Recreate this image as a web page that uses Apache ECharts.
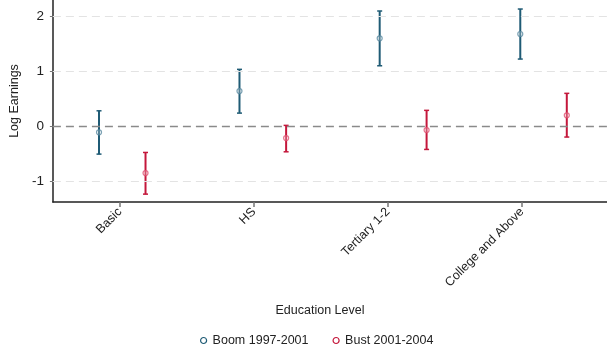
<!DOCTYPE html>
<html><head><meta charset="utf-8">
<script src="https://cdn.jsdelivr.net/npm/echarts@6/dist/echarts.min.js"></script>
<style>html,body{margin:0;padding:0;background:#fff}#c{width:607px;height:352px}</style>
</head><body><div id="c"></div>
<script>
const categories = ['Basic', 'HS', 'Tertiary 1-2', 'College and Above'];
const seriesNames = ['Boom 1997-2001', 'Bust 2001-2004'];
// x positions (in category-axis units) where each group is plotted
const boomX = [0.844, 1.892, 2.938, 3.987];
const bustX = [1.191, 2.240, 3.288, 4.334];
const boomEst = [-0.105, 0.645, 1.604, 1.682];
const boomLo = [-0.50, 0.245, 1.105, 1.227];
const boomHi = [0.287, 1.04, 2.10, 2.136];
const bustEst = [-0.845, -0.209, -0.064, 0.204];
const bustLo = [-1.227, -0.458, -0.415, -0.19];
const bustHi = [-0.47, 0.022, 0.295, 0.604];
const yTicks = [-1, 0, 1, 2];
const xTicks = [1, 2, 3, 4];

const boomColor = '#1f5b75';
const bustColor = '#c4173b';
const font = 'Liberation Sans, Arial, Helvetica, sans-serif';

function errItem(color) {
  return function (params, api) {
    const x = api.value(0), lo = api.value(1), hi = api.value(2);
    const p1 = api.coord([x, lo]), p2 = api.coord([x, hi]);
    const cw = 2.5;
    const st = { stroke: color, lineWidth: 2 };
    return { type: 'group', children: [
      { type: 'line', shape: { x1: p1[0], y1: p1[1], x2: p2[0], y2: p2[1] }, style: st },
      { type: 'line', shape: { x1: p1[0] - cw, y1: p1[1], x2: p1[0] + cw, y2: p1[1] }, style: { stroke: color, lineWidth: 1.5 } },
      { type: 'line', shape: { x1: p2[0] - cw, y1: p2[1], x2: p2[0] + cw, y2: p2[1] }, style: { stroke: color, lineWidth: 1.5 } }
    ]};
  };
}

const chart = echarts.init(document.getElementById('c'), null, { renderer: 'canvas' });
chart.setOption({
  animation: false,
  textStyle: { fontFamily: font },
  grid: { left: 51, right: 0, top: 0, bottom: 150, containLabel: false },
  graphic: [
    { type: 'text', x: 320, y: 304,
      style: { text: 'Education Level', fill: '#222', font: '12.5px ' + font, align: 'center', verticalAlign: 'top' } }
  ],
  xAxis: {
    type: 'value', min: 0.5, max: 4.634,
    axisLine: { show: true, onZero: false, lineStyle: { color: '#222', width: 1.5 } },
    axisTick: { show: true, customValues: xTicks, length: 5, lineStyle: { color: '#777', width: 1.5 } },
    axisLabel: { customValues: xTicks, rotate: 45, margin: 8, color: '#222', fontSize: 12.5, fontFamily: font,
      formatter: v => categories[Math.round(v) - 1] },
    splitLine: { show: false }
  },
  yAxis: {
    type: 'value', min: -1.37, max: 2.3,
    axisLine: { show: true, onZero: false, lineStyle: { color: '#222', width: 1.5 } },
    axisTick: { show: true, customValues: yTicks, length: 3, lineStyle: { color: '#777' } },
    axisLabel: { customValues: yTicks, margin: 9, color: '#222', fontSize: 13.5, fontFamily: font },
    splitLine: { show: false },
    name: 'Log Earnings', nameLocation: 'middle', nameGap: 31,
    nameTextStyle: { color: '#222', fontSize: 12.5, fontFamily: font }
  },
  legend: {
    bottom: 0, left: 195, itemGap: 24, itemWidth: 8, itemHeight: 6,
    textStyle: { color: '#222', fontSize: 12.5, fontFamily: font },
    data: [
      { name: seriesNames[0], icon: 'circle', itemStyle: { color: '#fff', borderColor: boomColor, borderWidth: 1.2 } },
      { name: seriesNames[1], icon: 'circle', itemStyle: { color: '#fff', borderColor: bustColor, borderWidth: 1.2 } }
    ]
  },
  series: [
    {
      type: 'line', silent: true, data: [],
      markLine: { silent: true, symbol: 'none', label: { show: false },
        data: yTicks.map(v => ({ yAxis: v, lineStyle: v === 0 ? { color: '#8a8a8a', type: [8, 5], width: 1.3 } : { color: '#e3e3e3', type: [8, 5], width: 1 } })) }
    },
    { type: 'custom', name: seriesNames[0], renderItem: errItem(boomColor), encode: { x: 0, y: [1, 2] },
      data: boomX.map((x, i) => [x, boomLo[i], boomHi[i]]), z: 3 },
    { type: 'custom', name: seriesNames[1], renderItem: errItem(bustColor), encode: { x: 0, y: [1, 2] },
      data: bustX.map((x, i) => [x, bustLo[i], bustHi[i]]), z: 3 },
    { type: 'scatter', name: seriesNames[0], symbol: 'circle', symbolSize: 5, z: 4,
      itemStyle: { color: 'rgba(255,255,255,0.3)', borderColor: '#5a8aa0', borderWidth: 1.2 },
      data: boomX.map((x, i) => [x, boomEst[i]]) },
    { type: 'scatter', name: seriesNames[1], symbol: 'circle', symbolSize: 5, z: 4,
      itemStyle: { color: 'rgba(255,255,255,0.3)', borderColor: '#e05070', borderWidth: 1.2 },
      data: bustX.map((x, i) => [x, bustEst[i]]) }
  ]
});
</script></body></html>
